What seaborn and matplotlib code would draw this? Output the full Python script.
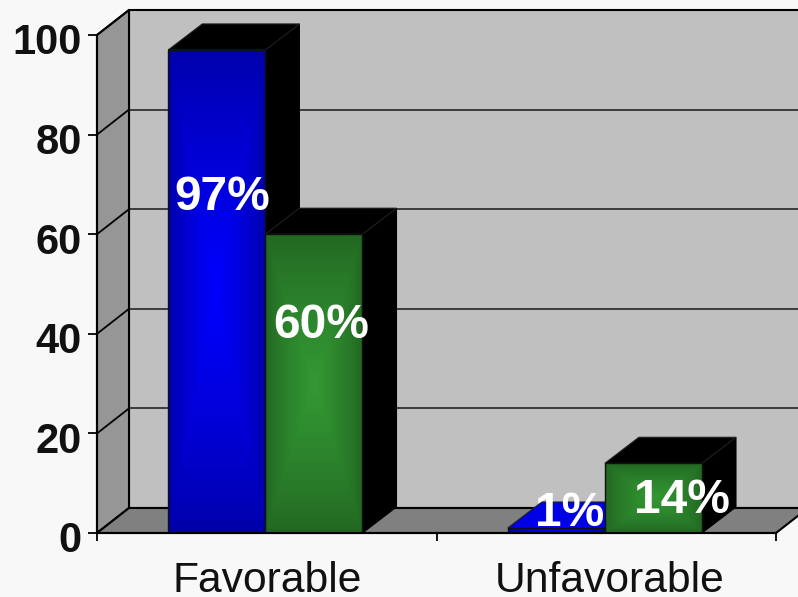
import numpy as np
import pandas as pd
import seaborn as sns
import matplotlib
matplotlib.use("Agg")
import matplotlib.pyplot as plt
from matplotlib.patches import Polygon, Rectangle
from matplotlib.transforms import Affine2D, ScaledTranslation

# Survey results, in percent
categories = ["Favorable", "Unfavorable"]
groups = ["First group", "Second group"]
first_group = [97, 1]
second_group = [60, 14]
value_ticks = [0, 20, 40, 60, 80, 100]

FACE = "#f8f8f8"
WALL = "#c0c0c0"
SIDE_WALL = "#969696"
FLOOR = "#808080"
FRONT_COLORS = {"First group": "#0000a8", "Second group": "#226622"}
CENTER_COLORS = {"First group": "#0000ff", "Second group": "#339933"}

sns.set_theme(style="white")
plt.rcParams["font.family"] = ["Liberation Sans", "DejaVu Sans"]

W, H, DPI = 798, 597, 100
fig = plt.figure(figsize=(W / DPI, H / DPI), dpi=DPI, facecolor=FACE)
ax = fig.add_axes([97 / W, (H - 533) / H, (776 - 97) / W, (533 - 35) / H])
ax.set_facecolor("none")

table = pd.DataFrame({
    "category": categories * 2,
    "group": [groups[0]] * 2 + [groups[1]] * 2,
    "value": first_group + second_group,
})
sns.barplot(
    data=table, x="category", y="value", hue="group", hue_order=groups,
    palette=FRONT_COLORS, width=0.572, gap=0, dodge=True, legend=False,
    edgecolor="#101010", linewidth=1.0, ax=ax, zorder=10,
)
ax.set_xlim(-0.5, 1.5)
ax.set_ylim(0, 100)
ax.set_xlabel("")
ax.set_ylabel("")

# Box depth of the chart, in display pixels
wall_depth = ax.transData + Affine2D().translate(32, 25)
box_dx, box_dy = 32 / ((776 - 97) / 2), 25 / ((533 - 35) / 100)
bar_dx, bar_dy = 34 / ((776 - 97) / 2), 26 / ((533 - 35) / 100)

edge = dict(edgecolor="black", linewidth=1.5, clip_on=False, joinstyle="miter")
x0, x1 = -0.5, 1.5
ax.add_patch(Polygon([(x0, 0), (x1, 0), (x1, 100), (x0, 100)], closed=True,
                     facecolor=WALL, transform=wall_depth, zorder=1, **edge))
ax.add_patch(Polygon([(x0, 0), (x0 + box_dx, box_dy), (x0 + box_dx, 100 + box_dy), (x0, 100)],
                     closed=True, facecolor=SIDE_WALL, zorder=2, **edge))
ax.add_patch(Polygon([(x0, 0), (x1, 0), (x1 + box_dx, box_dy), (x0 + box_dx, box_dy)],
                     closed=True, facecolor=FLOOR, zorder=2, **edge))

# Gridlines run along the back wall and fold down the side wall
for tick in value_ticks[1:-1]:
    ax.plot([x0, x1], [tick, tick], color="#181818", lw=1.1,
            transform=wall_depth, zorder=1.5, clip_on=False)
for tick in value_ticks[1:]:
    ax.plot([x0, x0 + box_dx], [tick, tick + box_dy], color="black", lw=1.3,
            zorder=3, clip_on=False, solid_capstyle="butt")

# Extrude each bar and shade its front face from the centre outwards
bars = [b for b in ax.patches if isinstance(b, Rectangle) and b.get_height() > 0]
bars.sort(key=lambda b: b.get_x())
ramp_u, ramp_v = np.meshgrid(np.linspace(-1, 1, 200), np.linspace(-1, 1, 200))
ramp = np.clip(1 - np.maximum(np.abs(ramp_u), np.abs(ramp_v)), 0, 1) ** 0.8
order = [groups[0], groups[1], groups[0], groups[1]]
for n, (bar, group) in enumerate(zip(bars, order)):
    bar.set_x(bar.get_x() - 0.004)  # sit the clusters a touch left of the category centre
    left, right = bar.get_x(), bar.get_x() + bar.get_width()
    top = bar.get_height()
    z = 4 + n
    side = [(right, 0), (right + bar_dx, bar_dy), (right + bar_dx, top + bar_dy), (right, top)]
    cap = [(left, top), (left + bar_dx, top + bar_dy), (right + bar_dx, top + bar_dy), (right, top)]
    ax.add_patch(Polygon(side, closed=True, facecolor="black", edgecolor="black",
                         linewidth=0.8, zorder=z, clip_on=False))
    # A very low bar shows its lit top rather than a shaded one
    cap_color = "#0000e6" if top < 5 else "black"
    ax.add_patch(Polygon(cap, closed=True, facecolor=cap_color, edgecolor="#202020",
                         linewidth=0.8, zorder=z, clip_on=False))

    low = np.array(matplotlib.colors.to_rgb(FRONT_COLORS[group]))
    high = np.array(matplotlib.colors.to_rgb(CENTER_COLORS[group]))
    shade = low + (high - low) * ramp[..., None]
    ax.imshow(shade, extent=(left, right, 0, top), origin="lower", aspect="auto",
              interpolation="bilinear", zorder=z + 0.2)
    bar.set_facecolor("none")
    bar.set_zorder(z + 0.4)
ax.set_xlim(-0.5, 1.5)
ax.set_ylim(0, 100)

# Percentage labels, nudged in pixels from the top centre of each bar
label_nudges = [(5, -148), (7, -91), (13, 15), (28, -37)]
for bar, nudge in zip(bars, label_nudges):
    value = bar.get_height()
    ax.annotate(f"{value:.0f}%", xy=(bar.get_x() + bar.get_width() / 2, value),
                xytext=nudge, textcoords="offset pixels", ha="center", va="center",
                color="white", fontsize=34.5, fontweight="bold", zorder=30,
                annotation_clip=False)

# Axes
sns.despine(ax=ax, top=True, right=True)
for spine in ("left", "bottom"):
    ax.spines[spine].set_linewidth(1.5)
    ax.spines[spine].set_color("black")
    ax.spines[spine].set_zorder(20)

ax.set_yticks(value_ticks)
ax.set_yticklabels([str(t) for t in value_ticks], fontsize=30, fontweight="bold", color="#111111")
ax.tick_params(axis="y", length=6.5, width=1.3, color="black", pad=4.6, left=True)
for label in ax.get_yticklabels():
    label.set_transform(label.get_transform() + ScaledTranslation(0, -4 / DPI, fig.dpi_scale_trans))

ax.set_xticks([-0.5, 0.5, 1.5])
ax.set_xticklabels(["", "", ""])
ax.set_xticks([0, 1], labels=categories, minor=True)
ax.tick_params(axis="x", which="major", length=6, width=1.3, color="black", bottom=True)
ax.tick_params(axis="x", which="minor", length=0, pad=20.2, labelsize=30.7, labelcolor="#111111")
unfavorable = ax.get_xticklabels(minor=True)[1]
unfavorable.set_transform(unfavorable.get_transform() + ScaledTranslation(3 / DPI, 0, fig.dpi_scale_trans))

fig.savefig("out.png", dpi=DPI, facecolor=FACE)
